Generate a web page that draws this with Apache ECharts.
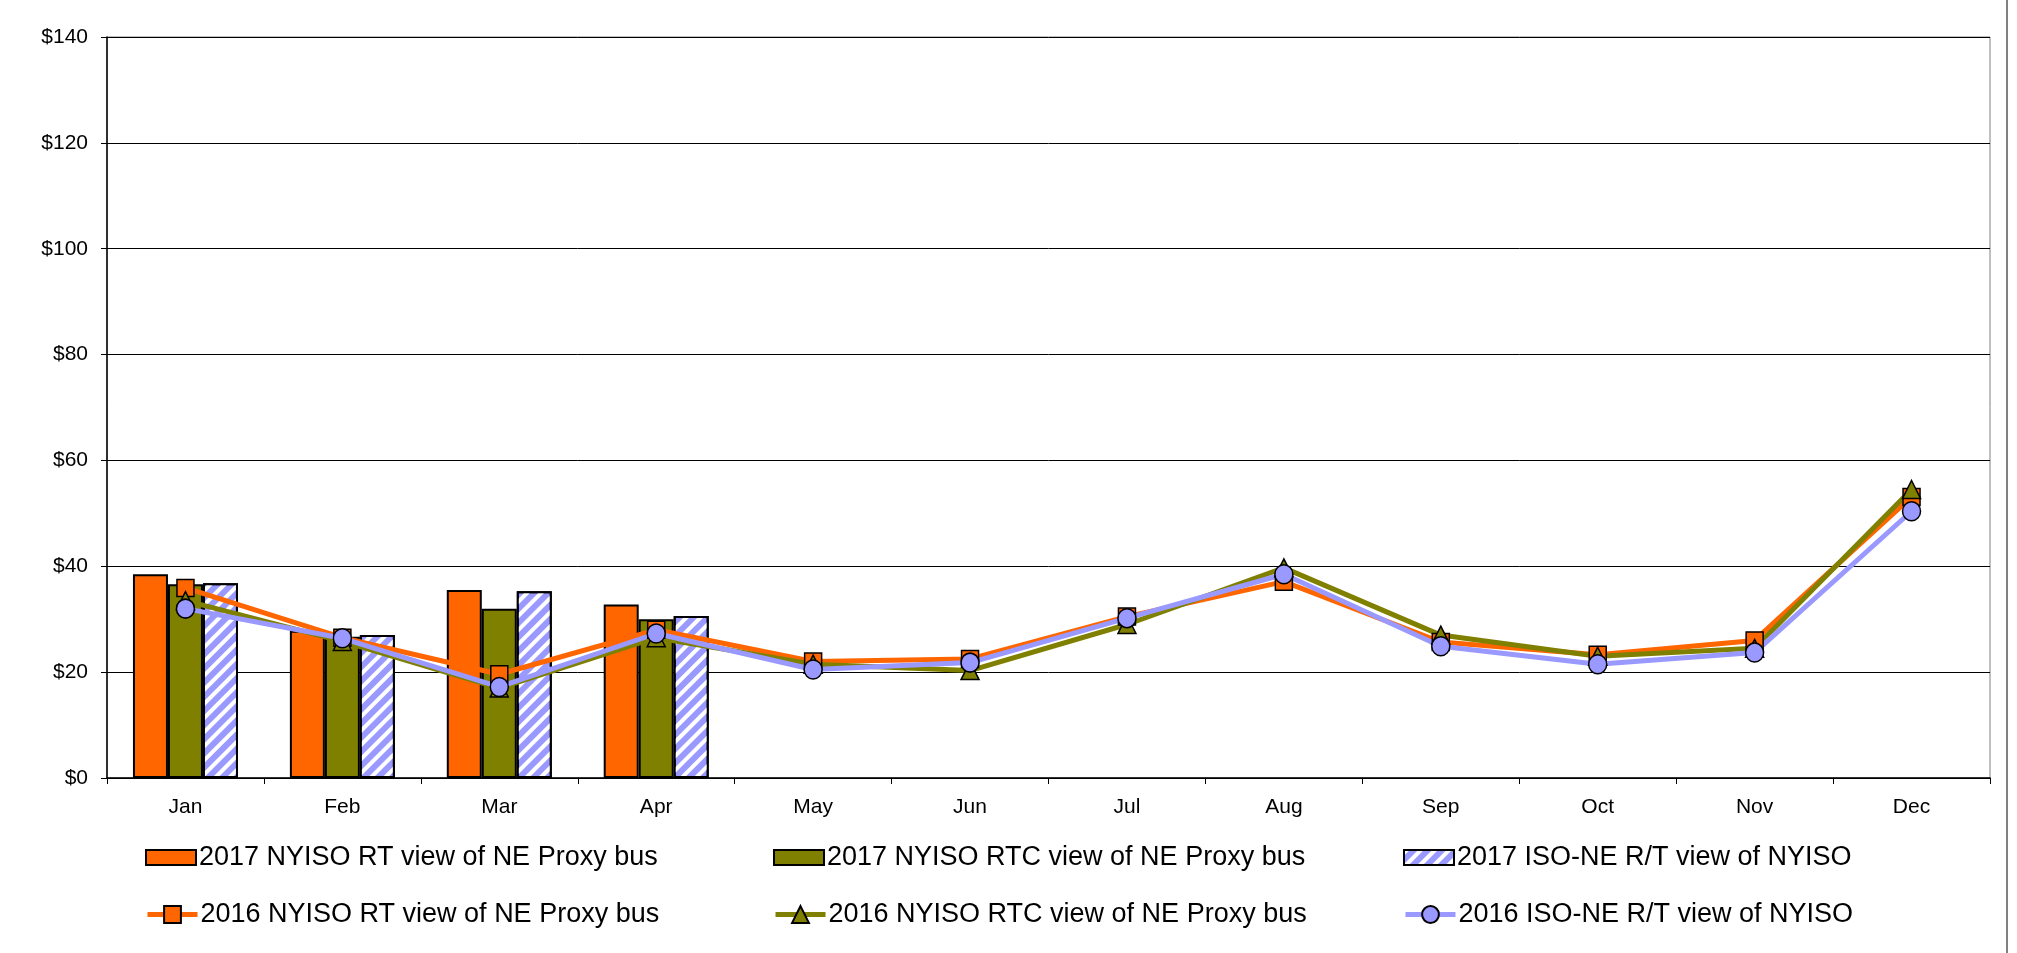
<!DOCTYPE html>
<html>
<head>
<meta charset="utf-8">
<script src="https://cdn.jsdelivr.net/npm/echarts@6/dist/echarts.min.js"></script>
<style>
html,body{margin:0;padding:0;background:#fff;}
#chart{width:2017px;height:953px;}
</style>
</head>
<body>
<div id="chart"></div>
<script>
const months = ['Jan','Feb','Mar','Apr','May','Jun','Jul','Aug','Sep','Oct','Nov','Dec'];
const yTicks = [0, 20, 40, 60, 80, 100, 120, 140];

const rt2017  = [38.5, 27.8, 35.5, 32.8, null, null, null, null, null, null, null, null];
const rtc2017 = [36.6, 26.7, 32.0, 30.0, null, null, null, null, null, null, null, null];
const iso2017 = [36.8, 27.0, 35.3, 30.6, null, null, null, null, null, null, null, null];

const rt2016  = [35.9, 26.5, 19.6, 28.0, 22.0, 22.5, 30.5, 37.1, 25.7, 23.3, 26.0, 53.1];
const rtc2016 = [33.5, 25.8, 17.0, 26.5, 21.5, 20.3, 29.0, 39.7, 27.0, 23.0, 24.5, 54.5];
const iso2016 = [32.0, 26.4, 17.2, 27.3, 20.5, 21.8, 30.2, 38.5, 24.9, 21.5, 23.7, 50.4];

const names = [
  '2017 NYISO RT view of NE Proxy bus',
  '2017 NYISO RTC view of NE Proxy bus',
  '2017 ISO-NE R/T view of NYISO',
  '2016 NYISO RT view of NE Proxy bus',
  '2016 NYISO RTC view of NE Proxy bus',
  '2016 ISO-NE R/T view of NYISO'
];

const FONT = '"Liberation Sans", Arial, sans-serif';
const ORANGE = '#FF6600', OLIVE = '#808000', BLUE = '#9999FF';

const chart = echarts.init(document.getElementById('chart'), null, {renderer: 'canvas'});

const legendPos = [
  {left: 145, top: 844}, {left: 773, top: 844}, {left: 1403, top: 844},
  {left: 145, top: 901}, {left: 773, top: 901}, {left: 1403, top: 901}
];
const legends = names.map((n, i) => {
  const lg = {
    data: [n],
    left: legendPos[i].left,
    top: legendPos[i].top,
    padding: 0,
    itemWidth: 50,
    itemHeight: i < 3 ? 15 : 21,
    itemGap: 0,
    textStyle: {fontFamily: FONT, fontSize: 27, color: '#000', padding: [0, 0, 0, -2]},
    selectedMode: false
  };
  if (i < 3) {
    lg.icon = 'rect';
  } else {
    lg.lineStyle = {width: 5};
  }
  return lg;
});

const barBase = {
  type: 'bar',
  barWidth: 35,
  barGap: '0%',
  z: 1
};
const lineBase = {
  type: 'line',
  z: 3,
  emphasis: {disabled: true}
};

chart.setOption({
  animation: false,
  backgroundColor: '#fff',
  textStyle: {fontFamily: FONT},
  grid: {left: 107, right: 27, top: 37, bottom: 175, show: true, borderColor: '#808080', borderWidth: 1},
  legend: legends,
  graphic: [{
    type: 'line', shape: {x1: 2007, y1: 0, x2: 2007, y2: 953},
    style: {stroke: '#808080', lineWidth: 2}
  }],
  xAxis: {
    type: 'category',
    data: months,
    boundaryGap: true,
    axisLine: {lineStyle: {color: '#000', width: 1.5}},
    axisTick: {show: true, interval: 0, length: 6, lineStyle: {color: '#000'}},
    axisLabel: {fontFamily: FONT, fontSize: 21, color: '#000', margin: 19, interval: 0}
  },
  yAxis: {
    type: 'value',
    min: yTicks[0],
    max: yTicks[yTicks.length - 1],
    interval: 20,
    axisLine: {show: true, lineStyle: {color: '#000', width: 1.5}},
    axisTick: {show: true, length: 6, lineStyle: {color: '#000'}},
    axisLabel: {fontFamily: FONT, fontSize: 21, color: '#000', margin: 19, formatter: v => '$' + v},
    splitLine: {show: true, lineStyle: {color: '#000', width: 1}}
  },
  series: [
    Object.assign({}, barBase, {name: names[0], data: rt2017,
      itemStyle: {color: ORANGE, borderColor: '#000', borderWidth: 2}}),
    Object.assign({}, barBase, {name: names[1], data: rtc2017,
      itemStyle: {color: OLIVE, borderColor: '#000', borderWidth: 2}}),
    Object.assign({}, barBase, {name: names[2], data: iso2017,
      itemStyle: {color: BLUE, borderColor: '#000', borderWidth: 2,
        decal: {symbol: 'rect', symbolSize: 1, dashArrayX: [1, 0], dashArrayY: [4, 6], rotation: -Math.PI / 4, color: '#ffffff'}}}),
    Object.assign({}, lineBase, {name: names[3], data: rt2016, color: ORANGE,
      symbol: 'rect', symbolSize: 17, lineStyle: {width: 5, color: ORANGE},
      itemStyle: {color: ORANGE, borderColor: '#000', borderWidth: 1.5}}),
    Object.assign({}, lineBase, {name: names[4], data: rtc2016, color: OLIVE,
      symbol: 'triangle', symbolSize: 18, lineStyle: {width: 5, color: OLIVE},
      itemStyle: {color: OLIVE, borderColor: '#000', borderWidth: 1.5}}),
    Object.assign({}, lineBase, {name: names[5], data: iso2016, color: BLUE,
      symbol: 'circle', symbolSize: [18, 19], lineStyle: {width: 5, color: BLUE},
      itemStyle: {color: BLUE, borderColor: '#000', borderWidth: 1.5}})
  ]
});
</script>
</body>
</html>
